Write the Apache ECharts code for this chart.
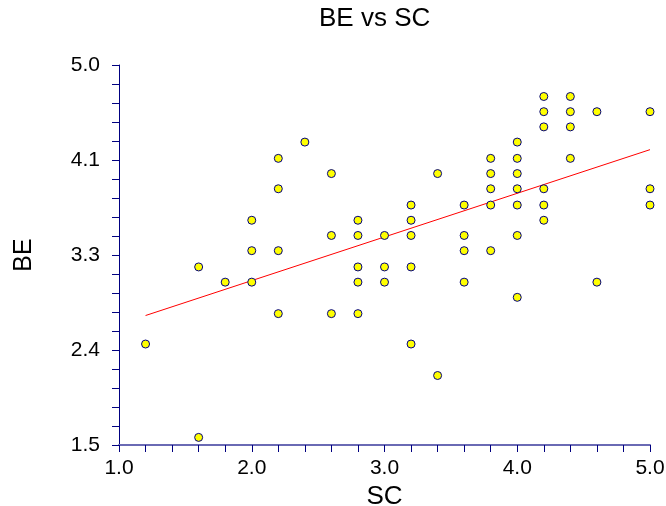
<!DOCTYPE html>
<html>
<head>
<meta charset="utf-8">
<script src="https://cdn.jsdelivr.net/npm/echarts@6/dist/echarts.min.js"></script>
<style>
html,body{margin:0;padding:0;background:#fff;}
#chart{width:666px;height:506px;}
</style>
</head>
<body>
<div id="chart"></div>
<script>
// SC values (x)
var scValues = [
  2.4, 2.2, 2.6, 2.2, 2.0, 2.8, 2.6, 2.8, 3.0, 2.0, 2.2,
  4.2, 4.4, 4.2, 4.4, 4.6, 5.0, 4.2, 4.4,
  4.0, 3.8, 4.0, 4.4, 3.4, 3.8, 4.0, 3.8, 4.0, 4.2, 5.0,
  3.2, 3.6, 3.8, 4.0, 4.2, 5.0, 3.2, 4.2, 3.2, 3.6, 4.0, 3.6, 3.8,
  1.6, 2.8, 3.0, 3.2, 1.8, 2.0, 2.8, 3.0, 3.6, 4.6, 4.0, 2.2, 2.6, 2.8, 1.2, 3.2, 3.4, 1.6
];
// BE values (y)
var beValues = [
  4.29, 4.14, 4.00, 3.86, 3.57, 3.57, 3.43, 3.43, 3.43, 3.29, 3.29,
  4.71, 4.71, 4.57, 4.57, 4.57, 4.57, 4.43, 4.43,
  4.29, 4.14, 4.14, 4.14, 4.00, 4.00, 4.00, 3.86, 3.86, 3.86, 3.86,
  3.71, 3.71, 3.71, 3.71, 3.71, 3.71, 3.57, 3.57, 3.43, 3.43, 3.43, 3.29, 3.29,
  3.14, 3.14, 3.14, 3.14, 3.00, 3.00, 3.00, 3.00, 3.00, 3.00, 2.86, 2.71, 2.71, 2.71, 2.43, 2.43, 2.14, 1.57
];
var xTickLabels = ['1.0', '2.0', '3.0', '4.0', '5.0'];
var yTickLabels = ['1.5', '2.4', '3.3', '4.1', '5.0'];

var points = scValues.map(function (x, i) { return [x, beValues[i]]; });

// least-squares fit of BE on SC
var n = points.length, sx = 0, sy = 0, sxx = 0, sxy = 0;
points.forEach(function (p) { sx += p[0]; sy += p[1]; sxx += p[0] * p[0]; sxy += p[0] * p[1]; });
var slope = (n * sxy - sx * sy) / (n * sxx - sx * sx);
var intercept = (sy - slope * sx) / n;
var xMin = Math.min.apply(null, scValues), xMax = Math.max.apply(null, scValues);
var fitLine = [[xMin, intercept + slope * xMin], [xMax, intercept + slope * xMax]];

var FONT = 'Liberation Sans, Arial, sans-serif';
var NAVY = '#000080';

var chart = echarts.init(document.getElementById('chart'), null, {renderer: 'canvas'});
chart.setOption({
  animation: false,
  backgroundColor: '#ffffff',
  title: {
    text: 'BE vs SC',
    left: 319, top: 6, padding: 0,
    textStyle: {fontFamily: FONT, fontSize: 26, fontWeight: 'normal', color: '#000'}
  },
  grid: {left: 119, right: 16, top: 65, bottom: 61, containLabel: false, outerBoundsMode: 'none'},
  xAxis: {
    type: 'value', min: 1, max: 5, interval: 1,
    name: 'SC', nameLocation: 'middle', nameGap: 32,
    nameTextStyle: {fontFamily: FONT, fontSize: 26, color: '#000'},
    axisLine: {show: true, onZero: false, lineStyle: {color: '#6a6ab4', width: 2}},
    axisTick: {show: true, inside: false, length: 7, lineStyle: {color: NAVY, width: 1}},
    minorTick: {show: true, splitNumber: 5, length: 7, lineStyle: {color: NAVY, width: 1}},
    splitLine: {show: false},
    minorSplitLine: {show: false},
    axisLabel: {
      margin: 13, fontFamily: FONT, fontSize: 21, color: '#000',
      formatter: function (v) { return xTickLabels[Math.round(v - 1)]; }
    }
  },
  yAxis: {
    type: 'value', min: 1.5, max: 5.0, interval: 0.875,
    name: 'BE', nameLocation: 'middle', nameGap: 82, nameRotate: 90,
    nameTextStyle: {fontFamily: FONT, fontSize: 25, color: '#000'},
    axisLine: {show: true, onZero: false, lineStyle: {color: NAVY, width: 1}},
    axisTick: {show: true, inside: false, length: 7, lineStyle: {color: NAVY, width: 1}},
    minorTick: {show: true, splitNumber: 5, length: 7, lineStyle: {color: NAVY, width: 1}},
    splitLine: {show: false},
    minorSplitLine: {show: false},
    axisLabel: {
      margin: 19, fontFamily: FONT, fontSize: 21, color: '#000',
      formatter: function (v) { return yTickLabels[Math.round((v - 1.5) / 0.875)]; }
    }
  },
  series: [
    {
      type: 'line', data: fitLine, showSymbol: false, silent: true,
      lineStyle: {color: '#ff0000', width: 1}, z: 2
    },
    {
      type: 'scatter', data: points, symbol: 'circle', symbolSize: 8,
      itemStyle: {color: '#ffff00', borderColor: NAVY, borderWidth: 1, opacity: 1}, z: 3
    }
  ]
});
</script>
</body>
</html>
